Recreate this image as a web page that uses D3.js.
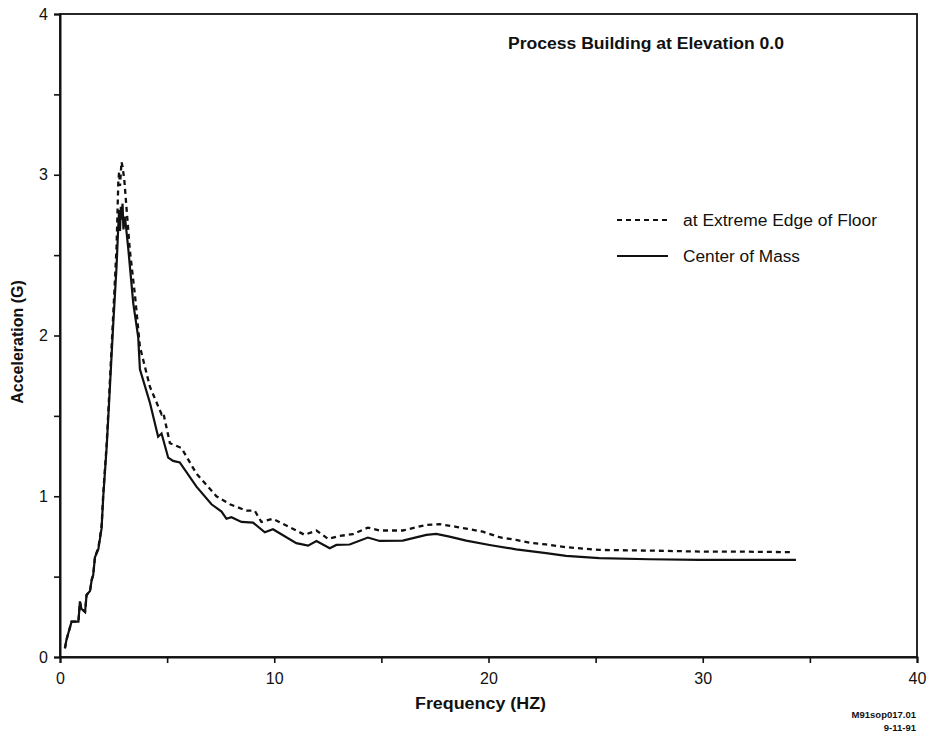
<!DOCTYPE html>
<html><head><meta charset="utf-8">
<script src="https://cdn.jsdelivr.net/npm/d3@7"></script>
<style>body{margin:0;background:#fff}svg{display:block}text{font-family:"Liberation Sans",Arial,sans-serif;fill:#111}</style>
</head><body><div id="chart"></div>
<script>
const massFreq = [0.23,0.3,0.54,0.86,0.93,1.0,1.17,1.24,1.40,1.48,1.55,1.63,1.79,1.94,2.02,2.18,2.33,2.48,2.64,2.72,2.76,2.80,2.84,2.87,2.92,2.96,3.03,3.18,3.42,3.65,3.73,4.20,4.58,4.74,5.05,5.28,5.59,6.37,7.07,7.54,7.77,8.0,8.47,9.01,9.56,9.94,11.03,11.58,11.97,12.59,12.9,13.52,14.37,14.92,16.0,17.1,17.56,18.18,18.96,20.05,21.29,22.69,23.62,25.17,27.5,29.84,34.35];
const massAcc = [0.054,0.106,0.22,0.22,0.344,0.30,0.28,0.386,0.41,0.48,0.51,0.62,0.67,0.80,1.0,1.31,1.68,2.06,2.43,2.68,2.78,2.65,2.80,2.72,2.82,2.66,2.74,2.55,2.20,1.99,1.79,1.58,1.37,1.39,1.24,1.22,1.21,1.06,0.95,0.905,0.86,0.87,0.84,0.836,0.776,0.795,0.708,0.693,0.722,0.677,0.697,0.70,0.743,0.722,0.724,0.76,0.766,0.749,0.724,0.697,0.67,0.646,0.629,0.615,0.608,0.604,0.604];
const edgeFreq = [0.23,0.3,0.54,0.86,0.93,1.0,1.17,1.24,1.40,1.48,1.55,1.63,1.79,1.94,2.02,2.18,2.33,2.48,2.64,2.72,2.76,2.80,2.87,2.92,3.0,3.10,3.26,3.50,3.73,4.2,4.74,4.82,5.13,5.67,6.37,7.30,7.93,8.7,9.09,9.40,9.94,11.42,11.97,12.51,13.05,13.67,14.37,14.92,16.0,17.1,17.72,18.49,19.73,20.51,21.29,22.07,22.69,23.62,25.17,27.5,29.84,31.39,34.19];
const edgeAcc = [0.054,0.106,0.22,0.22,0.344,0.30,0.28,0.386,0.41,0.48,0.51,0.62,0.68,0.81,1.02,1.33,1.72,2.12,2.55,2.95,3.02,2.93,3.08,3.05,2.97,2.80,2.53,2.25,1.93,1.68,1.51,1.52,1.33,1.30,1.14,1.0,0.95,0.91,0.91,0.84,0.86,0.76,0.787,0.735,0.753,0.764,0.805,0.787,0.787,0.822,0.826,0.81,0.78,0.745,0.728,0.708,0.70,0.683,0.666,0.662,0.656,0.656,0.652];
const xTicks = [0,5,10,15,20,25,30,35,40];
const xLabels = [0,10,20,30,40];
const yTicks = [0,0.5,1,1.5,2,2.5,3,3.5,4];
const yLabels = [0,1,2,3,4];
const seriesNames = ["at Extreme Edge of Floor","Center of Mass"];
const titleText = "Process Building at Elevation 0.0";

const W=930,H=741, L=60,R=917,T=14,B=657;
const svg=d3.select("#chart").append("svg").attr("width",W).attr("height",H);
const x=d3.scaleLinear().domain([0,40]).range([L,R]);
const y=d3.scaleLinear().domain([0,4]).range([B,T]);

// frame
svg.append("rect").attr("x",L).attr("y",T).attr("width",R-L).attr("height",B-T)
  .attr("fill","none").attr("stroke","#111").attr("stroke-width",1.8);

const xa=svg.append("g").attr("transform",`translate(0,${B})`)
  .call(d3.axisBottom(x).tickValues(xTicks).tickSize(6).tickFormat(d=>xLabels.includes(d)?d:""));
const ya=svg.append("g").attr("transform",`translate(${L},0)`)
  .call(d3.axisLeft(y).tickValues(yTicks).tickSize(6).tickFormat(d=>yLabels.includes(d)?d:""));
[xa,ya].forEach(g=>{g.select(".domain").attr("stroke","#111").attr("stroke-width",2);
  g.selectAll(".tick line").attr("stroke","#111").attr("stroke-width",1.6);
  g.selectAll("text").attr("font-size",16).attr("fill","#111").style("font-family","'Liberation Sans',Arial,sans-serif");});
xa.selectAll("text").attr("dy","1.15em");
ya.selectAll("text").attr("x",-12);

const line=d3.line().x(d=>x(d[0])).y(d=>y(d[1]));
const edge=edgeFreq.map((f,i)=>[f,edgeAcc[i]]);
const mass=massFreq.map((f,i)=>[f,massAcc[i]]);
svg.append("path").datum(edge).attr("d",line).attr("fill","none").attr("stroke","#111")
  .attr("stroke-width",2.3).attr("stroke-dasharray","5,4");
svg.append("path").datum(mass).attr("d",line).attr("fill","none").attr("stroke","#111")
  .attr("stroke-width",2.2);

// title
svg.append("text").attr("x",508).attr("y",49).attr("font-size",16)
  .attr("font-weight","bold").attr("textLength",276).attr("lengthAdjust","spacingAndGlyphs").text(titleText);

// legend
const lg=[{y:220,dash:"5,4",len:194},{y:256,dash:null,len:117}];
lg.forEach((l,i)=>{
  svg.append("line").attr("x1",617).attr("x2",668).attr("y1",l.y).attr("y2",l.y)
    .attr("stroke","#111").attr("stroke-width",2).attr("stroke-dasharray",l.dash);
  svg.append("text").attr("x",683).attr("y",l.y+6).attr("font-size",16)
    .attr("textLength",l.len).attr("lengthAdjust","spacingAndGlyphs").text(seriesNames[i]);
});

// axis titles
svg.append("text").attr("x",415).attr("y",709).attr("font-size",16)
  .attr("font-weight","bold").attr("textLength",131).attr("lengthAdjust","spacingAndGlyphs").text("Frequency  (HZ)");
svg.append("text").attr("transform",`translate(23,342) rotate(-90)`).attr("text-anchor","middle")
  .attr("font-size",16).attr("font-weight","bold").text("Acceleration  (G)");

// footnote
svg.append("text").attr("x",916).attr("y",718).attr("text-anchor","end").attr("font-size",9.5)
  .attr("font-weight","bold").text("M91sop017.01");
svg.append("text").attr("x",916).attr("y",731).attr("text-anchor","end").attr("font-size",9.5)
  .attr("font-weight","bold").text("9-11-91");
</script></body></html>
